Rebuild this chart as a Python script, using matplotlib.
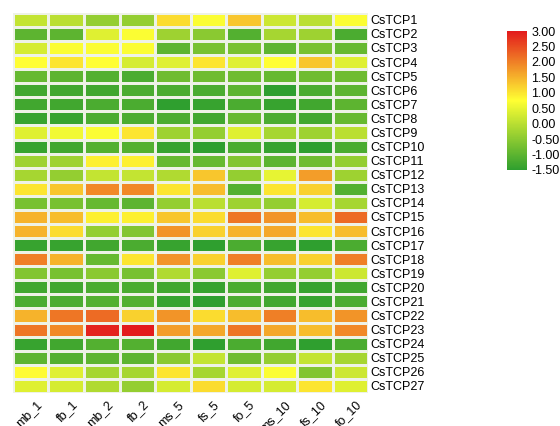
import numpy as np
import matplotlib
matplotlib.use("Agg")
import matplotlib.pyplot as plt
from matplotlib.colors import LinearSegmentedColormap
from matplotlib.transforms import ScaledTranslation

plt.rcParams['font.family'] = ['Liberation Sans', 'DejaVu Sans']

samples = ["mb_1", "fb_1", "mb_2", "fb_2", "ms_5", "fs_5", "fo_5", "ms_10", "fs_10", "fo_10"]
genes = [f"CsTCP{i}" for i in range(1, 28)]

# Row-scaled expression values (one row per gene, columns follow `samples`)
CsTCP1 = [0.1, 0.0, -0.4, -0.4, 1.1, 0.7, 1.3, 0.2, 0.0, 0.7]
CsTCP2 = [-1.0, -1.0, 0.4, 0.7, -0.3, -0.5, -1.1, -0.2, -0.3, -1.2]
CsTCP3 = [0.3, 0.7, 0.7, 0.7, -1.0, -0.7, -0.7, -1.0, -0.7, -0.9]
CsTCP4 = [0.75, 1.0, 0.75, 0.3, 0.4, 1.0, 0.4, 0.75, 1.3, 0.4]
CsTCP5 = [-0.9, -1.0, -1.1, -1.2, -0.8, -0.8, -0.8, -0.9, -0.8, -0.8]
CsTCP6 = [-1.3, -1.3, -1.3, -1.2, -1.2, -1.2, -1.0, -1.5, -1.2, -1.0]
CsTCP7 = [-1.3, -1.3, -1.2, -1.2, -1.5, -1.4, -1.2, -1.4, -1.3, -1.0]
CsTCP8 = [-1.4, -1.4, -1.2, -1.2, -1.2, -1.3, -0.9, -1.2, -1.3, -0.9]
CsTCP9 = [0.4, 0.6, 0.7, 1.0, -0.3, -0.4, 0.4, -0.2, -0.3, 0.0]
CsTCP10 = [-1.4, -1.3, -1.1, -1.1, -1.4, -1.5, -1.2, -1.4, -1.5, -1.2]
CsTCP11 = [-0.3, -0.3, 0.9, 0.9, -0.9, -0.9, -0.6, -1.0, -0.8, -0.4]
CsTCP12 = [-0.2, -0.4, 0.1, 0.1, -0.1, 1.3, -0.4, 0.5, 1.7, -0.3]
CsTCP13 = [1.0, 1.3, 1.9, 1.9, 1.0, 1.4, -1.1, 1.0, 1.2, -1.1]
CsTCP14 = [-0.7, -0.7, -0.9, -1.0, -0.4, 0.0, -0.3, -0.4, 0.3, -0.2]
CsTCP15 = [1.5, 1.4, 0.9, 0.9, 1.3, 1.1, 2.1, 1.8, 1.4, 2.2]
CsTCP16 = [1.5, 1.1, -0.4, -0.6, 1.8, 1.2, 1.5, 1.6, 1.0, 1.4]
CsTCP17 = [-1.4, -1.4, -1.3, -1.2, -1.4, -1.5, -1.2, -1.4, -1.5, -1.2]
CsTCP18 = [2.0, 1.5, -0.9, 1.0, 1.8, 1.2, 2.0, 1.4, 1.2, 2.0]
CsTCP19 = [-0.6, -0.7, -0.5, -0.7, -0.1, -0.5, 0.4, -0.4, -0.4, 0.2]
CsTCP20 = [-1.3, -1.3, -1.2, -1.2, -1.3, -1.4, -1.2, -1.3, -1.4, -1.3]
CsTCP21 = [-1.2, -1.2, -1.1, -1.1, -1.4, -1.5, -1.2, -1.3, -1.4, -1.2]
CsTCP22 = [1.5, 2.1, 2.2, 1.2, 1.8, 1.1, 1.4, 2.0, 1.4, 1.8]
CsTCP23 = [2.1, 1.9, 2.9, 3.0, 1.7, 1.6, 2.1, 1.6, 1.4, 1.9]
CsTCP24 = [-1.4, -1.3, -1.1, -1.1, -1.3, -1.5, -1.2, -1.3, -1.5, -1.2]
CsTCP25 = [-1.0, -1.1, -1.0, -1.0, -0.5, 0.1, -0.8, -0.4, 0.1, -0.2]
CsTCP26 = [0.8, 0.4, -0.2, -0.2, 1.0, -0.2, 0.4, 0.7, -0.6, 0.2]
CsTCP27 = [0.4, 0.3, -0.1, -0.4, 0.3, 1.1, 0.3, 0.3, 1.0, 0.4]

rows = [CsTCP1, CsTCP2, CsTCP3, CsTCP4, CsTCP5, CsTCP6, CsTCP7, CsTCP8, CsTCP9,
        CsTCP10, CsTCP11, CsTCP12, CsTCP13, CsTCP14, CsTCP15, CsTCP16, CsTCP17,
        CsTCP18, CsTCP19, CsTCP20, CsTCP21, CsTCP22, CsTCP23, CsTCP24, CsTCP25,
        CsTCP26, CsTCP27]
data = np.array(rows)

vmin, vmax = -1.5, 3.0
cmap = LinearSegmentedColormap.from_list(
    "gyr", [(0.0, "#2f9f2f"), (0.5, "#ffff33"), (1.0, "#e31a1c")])

fig = plt.figure(figsize=(5.6, 4.26), dpi=100)
ax = fig.add_axes([0.0232, 0.0775, 0.634, 0.8925])
mesh = ax.pcolormesh(data, cmap=cmap, vmin=vmin, vmax=vmax,
                     edgecolors="#eef2e6", linewidth=0.8)
ax.set_xlim(0, len(samples))
ax.set_ylim(len(genes), 0)
for s in ax.spines.values():
    s.set_visible(False)

ax.yaxis.tick_right()
ax.set_yticks(np.arange(len(genes)) + 0.5)
ax.set_yticklabels(genes, fontsize=9)
ax.set_xticks(np.arange(len(samples)) + 0.5)
ax.set_xticklabels(samples, fontsize=9, rotation=45, ha="right",
                   va="top", rotation_mode="anchor")
ax.tick_params(axis="both", length=0, pad=2)
ax.tick_params(axis="x", pad=4)
shift = ScaledTranslation(5 / 100, 0, fig.dpi_scale_trans)
for lbl in ax.get_xticklabels():
    lbl.set_transform(lbl.get_transform() + shift)

cax = fig.add_axes([0.905, 0.601, 0.036, 0.326])
cb = fig.colorbar(mesh, cax=cax, ticks=np.arange(-1.5, 3.01, 0.5))
cb.outline.set_visible(False)
cb.ax.set_yticklabels([f"{t:.2f}" for t in np.arange(-1.5, 3.01, 0.5)], fontsize=9)
cb.ax.tick_params(length=0, pad=3)

fig.savefig("out.png", dpi=100)
